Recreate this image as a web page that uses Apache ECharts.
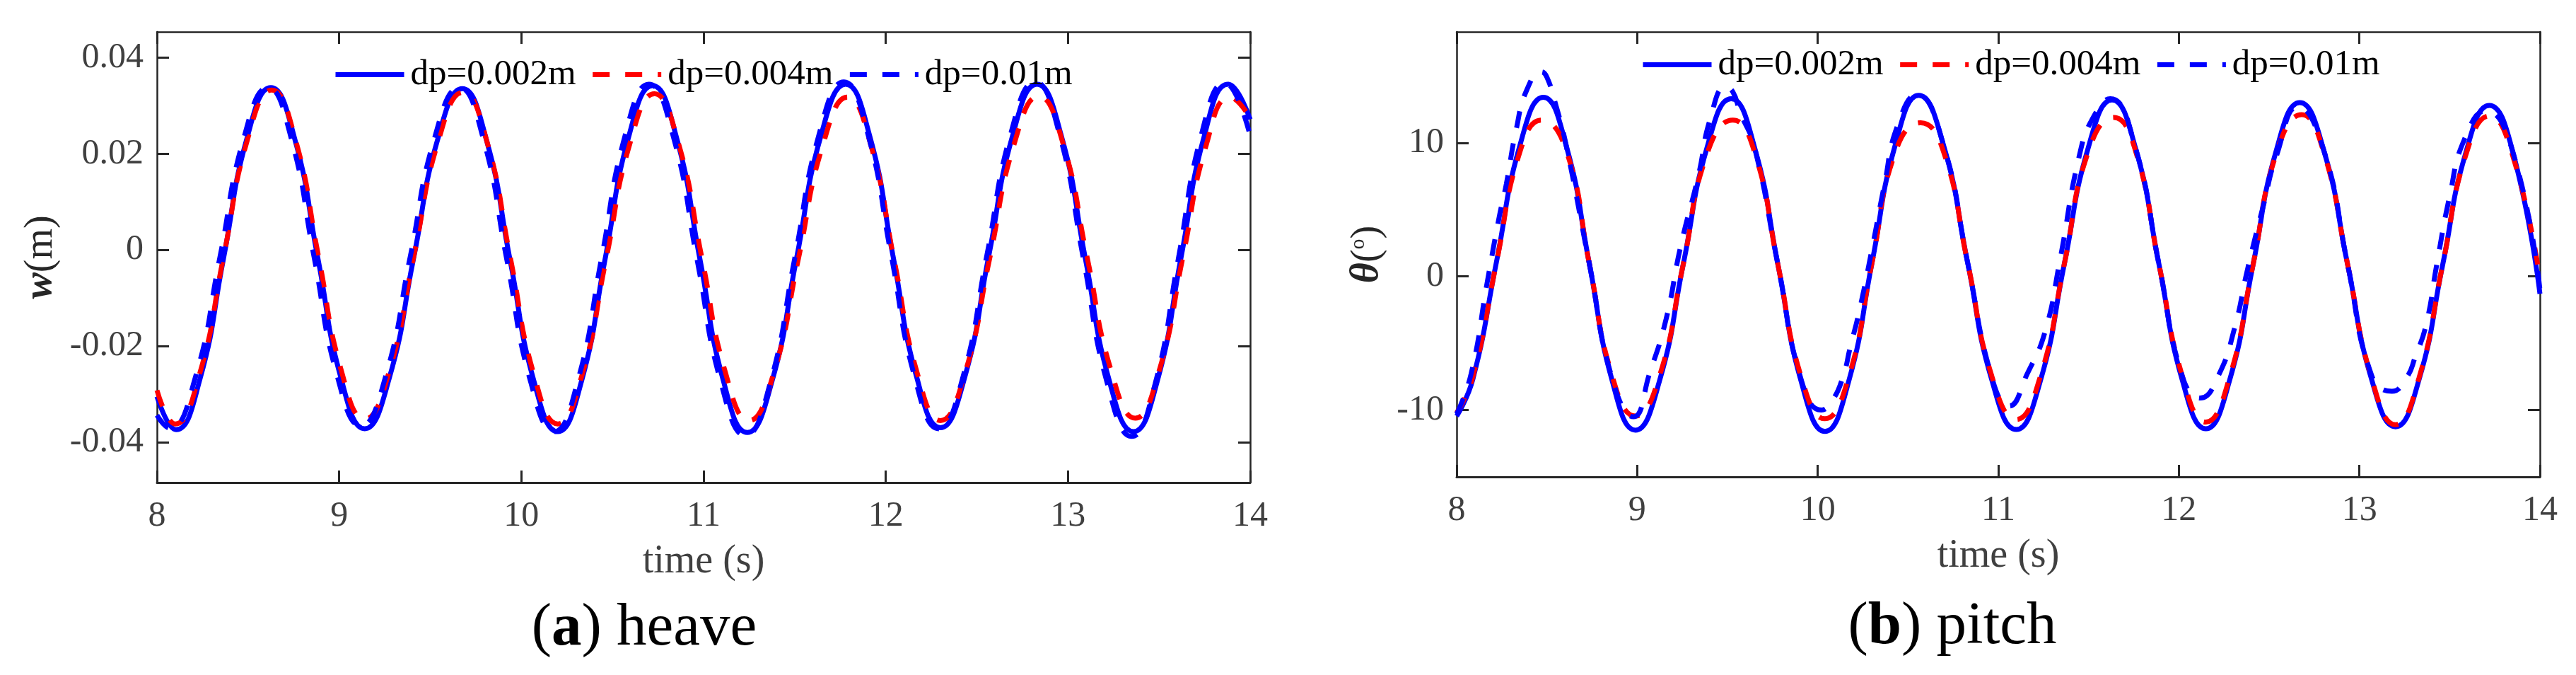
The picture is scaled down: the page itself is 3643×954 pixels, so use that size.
<!DOCTYPE html>
<html><head><meta charset="utf-8">
<script src="https://cdn.jsdelivr.net/npm/echarts@6/dist/echarts.min.js"></script>
<style>html,body{margin:0;padding:0;background:#fff}#c{width:3643px;height:954px}</style>
</head><body><div id="c"></div>
<script>
const FONT = '"Liberation Serif","Times New Roman",serif';
const seriesNames = ['dp=0.002m', 'dp=0.004m', 'dp=0.01m'];
const timeTicks = [8, 9, 10, 11, 12, 13, 14];
const heaveTicks = [-0.04, -0.02, 0, 0.02, 0.04];
const pitchTicks = [-10, 0, 10];

// heave w (m) vs time (s)
const heave_dp002 = [[8.00,-0.0305],[8.105,-0.0374],[8.235,-0.0270],[8.365,-0.0018],[8.495,0.0234],[8.625,0.0338],
[8.754,0.0234],[8.883,-0.0017],[9.011,-0.0268],[9.14,-0.0372],
[9.274,-0.0268],[9.408,-0.0018],[9.542,0.0232],[9.676,0.0336],
[9.807,0.0231],[9.938,-0.0021],[10.069,-0.0273],[10.20,-0.0378],
[10.33,-0.0273],[10.46,-0.0018],[10.59,0.0237],[10.72,0.0342],
[10.85,0.0236],[10.98,-0.0019],[11.11,-0.0274],[11.24,-0.0380],
[11.375,-0.0274],[11.51,-0.0018],[11.645,0.0239],[11.78,0.0345],
[11.91,0.0240],[12.04,-0.0013],[12.17,-0.0265],[12.30,-0.0370],
[12.4325,-0.0266],[12.565,-0.0013],[12.6975,0.0240],[12.83,0.0345],
[12.9625,0.0239],[13.095,-0.0017],[13.2275,-0.0273],[13.36,-0.0378],
[13.49,-0.0273],[13.62,-0.0017],[13.75,0.0240],[13.88,0.0345],[14.00,0.0272]];
const heave_dp004 = [[8.00,-0.0292],[8.10,-0.0362],[8.2325,-0.0260],[8.365,-0.0015],[8.4975,0.0231],[8.63,0.0333],
[8.7575,0.0233],[8.885,-0.0010],[9.0125,-0.0252],[9.14,-0.0352],
[9.275,-0.0252],[9.41,-0.0012],[9.545,0.0228],[9.68,0.0328],
[9.81,0.0227],[9.94,-0.0017],[10.07,-0.0261],[10.20,-0.0362],
[10.3325,-0.0261],[10.465,-0.0019],[10.5975,0.0224],[10.73,0.0325],
[10.86,0.0225],[10.99,-0.0015],[11.12,-0.0255],[11.25,-0.0355],
[11.385,-0.0256],[11.52,-0.0019],[11.655,0.0219],[11.79,0.0318],
[11.9175,0.0219],[12.045,-0.0019],[12.1725,-0.0256],[12.30,-0.0355],
[12.435,-0.0256],[12.57,-0.0018],[12.705,0.0221],[12.84,0.0320],
[12.9725,0.0222],[13.105,-0.0015],[13.2375,-0.0252],[13.37,-0.0350],
[13.50,-0.0252],[13.63,-0.0016],[13.76,0.0220],[13.89,0.0318],[14.00,0.0275]];
const heave_dp01 = [[8.00,-0.0344],[8.07,-0.0371],[8.21,-0.0266],[8.345,-0.0016],[8.4775,0.0234],[8.61,0.0338],
[8.735,0.0235],[8.862,-0.0014],[8.99,-0.0263],[9.12,-0.0366],
[9.255,-0.0263],[9.39,-0.0014],[9.525,0.0235],[9.66,0.0338],
[9.79,0.0233],[9.92,-0.0020],[10.05,-0.0273],[10.18,-0.0378],
[10.31,-0.0272],[10.44,-0.0017],[10.57,0.0239],[10.70,0.0345],
[10.8325,0.0238],[10.965,-0.0021],[11.0975,-0.0279],[11.23,-0.0386],
[11.365,-0.0278],[11.50,-0.0018],[11.635,0.0242],[11.77,0.0350],
[11.90,0.0244],[12.03,-0.0011],[12.16,-0.0266],[12.29,-0.0372],
[12.4225,-0.0266],[12.555,-0.0011],[12.6875,0.0244],[12.82,0.0350],
[12.9525,0.0242],[13.085,-0.0019],[13.2175,-0.0280],[13.35,-0.0388],
[13.4775,-0.0280],[13.605,-0.0020],[13.7325,0.0240],[13.86,0.0348],[14.00,0.0238]];

// pitch theta (deg) vs time (s)
const pitch_dp002 = [[8.00,-10.45],[8.09,-7.68],[8.22,1.05],[8.35,9.78],[8.48,13.4],
[8.6075,9.75],[8.735,0.95],[8.8625,-7.85],[8.99,-11.5],
[9.1225,-7.87],[9.255,0.9],[9.3875,9.67],[9.52,13.3],
[9.65,9.65],[9.78,0.85],[9.91,-7.95],[10.04,-11.6],
[10.17,-7.92],[10.30,0.98],[10.43,9.87],[10.56,13.55],
[10.695,9.89],[10.83,1.05],[10.965,-7.79],[11.10,-11.45],
[11.2325,-7.84],[11.365,0.88],[11.4975,9.59],[11.63,13.2],
[11.76,9.6],[11.89,0.9],[12.02,-7.8],[12.15,-11.4],
[12.28,-7.83],[12.41,0.8],[12.54,9.43],[12.67,13.0],
[12.8025,9.45],[12.935,0.88],[13.0675,-7.7],[13.20,-11.25],
[13.33,-7.73],[13.46,0.78],[13.59,9.28],[13.72,12.8],
[13.85,9.3],[14.00,-1.3]];
const pitch_dp004 = [[8.00,-10.2],[8.09,-7.5],[8.22,1.0],[8.35,9.3],[8.47,11.7],
[8.6075,9.4],[8.735,0.95],[8.8625,-7.5],[8.99,-10.45],
[9.1225,-7.5],[9.255,0.9],[9.3875,9.2],[9.53,11.7],
[9.65,9.3],[9.78,0.85],[9.91,-7.6],[10.04,-10.65],
[10.17,-7.6],[10.30,0.98],[10.43,9.3],[10.57,11.5],
[10.695,9.4],[10.83,1.05],[10.965,-7.5],[11.10,-10.7],
[11.2325,-7.5],[11.365,0.88],[11.4975,9.3],[11.64,11.9],
[11.76,9.4],[11.89,0.9],[12.02,-7.5],[12.15,-10.9],
[12.28,-7.6],[12.41,0.8],[12.54,9.2],[12.68,12.1],
[12.8025,9.3],[12.935,0.88],[13.0675,-7.6],[13.20,-11.1],
[13.33,-7.6],[13.46,0.78],[13.59,9.1],[13.72,12.0],
[13.85,9.0],[14.00,-0.2]];
const pitch_dp01 = [[8.00,-10.3],[8.08,-7.3],[8.17,-0.4],[8.235,4.4],[8.275,6.9],[8.33,11.0],[8.39,14.0],[8.47,15.3],[8.50,14.9],[8.55,12.8],
[8.6075,9.75],[8.735,0.95],[8.8625,-7.7],[8.98,-10.5],
[9.07,-7.2],[9.16,-3.2],[9.24,2.2],[9.34,7.6],[9.405,11.8],[9.49,14.2],[9.53,13.8],[9.57,12.3],
[9.65,9.65],[9.78,0.85],[9.91,-7.8],[10.02,-10.0],
[10.08,-9.3],[10.14,-7.5],[10.18,-5.3],[10.23,-2.6],[10.30,2.0],[10.37,6.9],[10.44,11.2],[10.55,13.6],
[10.695,9.9],[10.83,1.05],[10.965,-7.6],[11.06,-9.7],
[11.16,-7.3],[11.26,-4.1],[11.34,1.1],[11.45,9.1],[11.53,12.0],[11.62,13.3],
[11.76,9.6],[11.89,0.9],[12.02,-7.5],[12.12,-9.1],
[12.22,-7.4],[12.31,-3.8],[12.38,0.5],[12.47,5.4],[12.54,9.0],[12.66,12.7],
[12.8025,9.45],[12.935,0.88],[13.0675,-7.4],[13.18,-8.6],
[13.26,-7.6],[13.31,-6.0],[13.37,-3.6],[13.43,1.0],[13.50,6.0],[13.58,10.2],[13.70,12.4],
[13.85,9.3],[14.00,-1.0]];

const BLUE = '#0000ff', RED = '#ff0000';
const DASH = [24, 22];
const AX = '#262626', LBL = '#404040';

function xPair(gi, gap) {
  const common = {type: 'value', gridIndex: gi, min: 8, max: 14, interval: 1, splitLine: {show: false}};
  return [
    Object.assign({}, common, {
      position: 'bottom',
      axisLine: {show: true, onZero: false, lineStyle: {color: AX, width: 3}},
      axisTick: {show: true, inside: true, length: 17, lineStyle: {color: AX, width: 3}},
      axisLabel: {show: true, margin: 23, color: LBL, fontFamily: FONT, fontSize: 50},
      name: 'time (s)', nameLocation: 'middle', nameGap: gap,
      nameTextStyle: {fontFamily: FONT, fontSize: 56, color: LBL}
    }),
    Object.assign({}, common, {
      position: 'top',
      axisLine: {show: true, onZero: false, lineStyle: {color: AX, width: 2.5}},
      axisTick: {show: true, inside: true, length: 17, lineStyle: {color: AX, width: 3}},
      axisLabel: {show: false}
    })
  ];
}
function yPair(gi, min, max, ticks, fmt, name, gap, rich, margin) {
  const common = {type: 'value', gridIndex: gi, min: min, max: max, splitLine: {show: false}};
  return [
    Object.assign({}, common, {
      position: 'left',
      axisLine: {show: true, onZero: false, lineStyle: {color: AX, width: 2.5}},
      axisTick: {show: true, inside: true, length: 17, customValues: ticks, lineStyle: {color: AX, width: 3}},
      axisLabel: {show: true, customValues: ticks, formatter: fmt, margin: margin, color: LBL, fontFamily: FONT, fontSize: 50},
      name: name, nameLocation: 'middle', nameGap: gap, nameRotate: 90,
      nameTextStyle: {fontFamily: FONT, fontSize: 56, color: AX, rich: rich}
    }),
    Object.assign({}, common, {
      position: 'right',
      axisLine: {show: true, onZero: false, lineStyle: {color: AX, width: 2.5}},
      axisTick: {show: true, inside: true, length: 17, customValues: ticks, lineStyle: {color: AX, width: 3}},
      axisLabel: {show: false}
    })
  ];
}
function mkSeries(name, data, xi, yi, color, dash) {
  return {
    type: 'line', name: name, data: data, xAxisIndex: xi, yAxisIndex: yi,
    symbol: 'none', showSymbol: false, smooth: 0.5, silent: true,
    lineStyle: {color: color, width: 7, type: dash ? DASH : 'solid'},
    itemStyle: {color: color}
  };
}
const noMarker = {color: 'transparent', borderWidth: 0, opacity: 0};
function mkLegend(left, top) {
  return {
    left: left, top: top, orient: 'horizontal', padding: 0, itemWidth: 97, itemHeight: 14, itemGap: 20,
    selectedMode: false,
    textStyle: {fontFamily: FONT, fontSize: 51, color: '#000', lineHeight: 51, padding: [0, 0, 0, 4]},
    data: [
      {name: seriesNames[0], itemStyle: noMarker, lineStyle: {width: 7, type: 'solid', color: BLUE}},
      {name: seriesNames[1], itemStyle: noMarker, lineStyle: {width: 7, type: DASH, color: RED}},
      {name: seriesNames[2], itemStyle: noMarker, lineStyle: {width: 7, type: DASH, color: BLUE}}
    ]
  };
}

const heaveFmt = v => String(Math.round(v * 100) / 100);
const pitchFmt = v => String(Math.round(v));
const richW = {
  it: {fontFamily: FONT, fontSize: 56, fontStyle: 'italic', fontWeight: 'bold', color: AX, lineHeight: 56},
  n: {fontFamily: FONT, fontSize: 56, color: AX, lineHeight: 56}
};
const richT = {
  it: {fontFamily: FONT, fontSize: 56, fontStyle: 'italic', fontWeight: 'bold', color: AX, lineHeight: 56},
  n: {fontFamily: FONT, fontSize: 56, color: AX, lineHeight: 56},
  s: {fontFamily: FONT, fontSize: 30, color: AX, lineHeight: 56, verticalAlign: 'top'}
};

const xa = xPair(0, 84).concat(xPair(1, 84));
const ya = yPair(0, -0.0484, 0.0454, heaveTicks, heaveFmt, '{it|w}{n|(m)}', 136, richW, 19)
  .concat(yPair(1, -15, 18.3, pitchTicks, pitchFmt, '{it|θ}{n|(}{s|o}{n|)}', 98, richT, 18));

const capRich = {
  n: {fontFamily: FONT, fontSize: 85, color: '#000', lineHeight: 85},
  b: {fontFamily: FONT, fontSize: 85, fontWeight: 'bold', color: '#000', lineHeight: 85}
};

const option = {
  animation: false,
  backgroundColor: '#fff',
  grid: [
    {left: 222, top: 45, width: 1546, height: 637, containLabel: false, outerBoundsMode: 'none'},
    {left: 2060, top: 45, width: 1532, height: 629, containLabel: false, outerBoundsMode: 'none'}
  ],
  xAxis: xa,
  yAxis: ya,
  legend: [mkLegend(471, 80), mkLegend(2320, 66)],
  series: [
    mkSeries(seriesNames[0], heave_dp002, 0, 0, BLUE, false),
    mkSeries(seriesNames[1], heave_dp004, 0, 0, RED, true),
    mkSeries(seriesNames[2], heave_dp01, 0, 0, BLUE, true),
    mkSeries(seriesNames[0], pitch_dp002, 2, 2, BLUE, false),
    mkSeries(seriesNames[1], pitch_dp004, 2, 2, RED, true),
    mkSeries(seriesNames[2], pitch_dp01, 2, 2, BLUE, true)
  ],
  graphic: [
    {type: 'text', x: 911, y: 889, style: {text: '{n|(}{b|a}{n|) heave}', rich: capRich, align: 'center', verticalAlign: 'middle'}},
    {type: 'text', x: 2761, y: 887, style: {text: '{n|(}{b|b}{n|) pitch}', rich: capRich, align: 'center', verticalAlign: 'middle'}}
  ]
};
const chart = echarts.init(document.getElementById('c'), null, {renderer: 'canvas'});
chart.setOption(option);
</script>
</body></html>
